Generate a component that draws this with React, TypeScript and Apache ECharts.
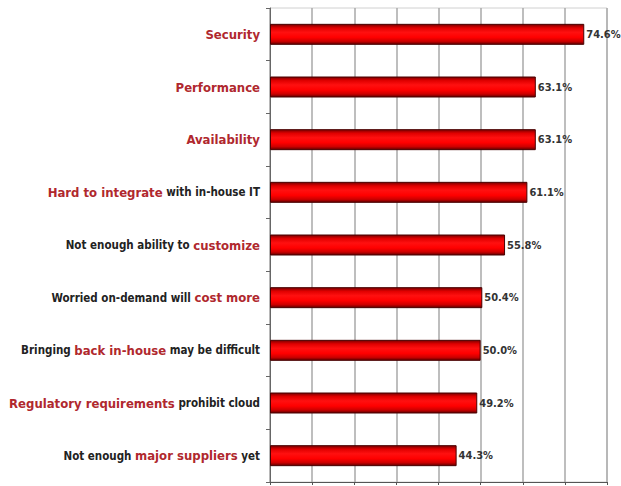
import React, { useEffect, useRef } from "react";
import * as echarts from "echarts";

const categories = [
  "Security",
  "Performance",
  "Availability",
  "Hard to integrate with in-house IT",
  "Not enough ability to customize",
  "Worried on-demand will cost more",
  "Bringing back in-house may be difficult",
  "Regulatory requirements prohibit cloud",
  "Not enough major suppliers yet",
];
const highlights = [
  "Security",
  "Performance",
  "Availability",
  "Hard to integrate",
  "customize",
  "cost more",
  "back in-house",
  "Regulatory requirements",
  "major suppliers",
];
const values = [74.6, 63.1, 63.1, 61.1, 55.8, 50.4, 50.0, 49.2, 44.3];
const axisMin = 0;
const axisMax = 80;
const axisStep = 10;

const FONT = "'Liberation Sans Narrow', 'Arial Narrow', 'DejaVu Sans Condensed', 'Liberation Sans', sans-serif";

function richLabel(text: string, hi: string): string {
  const i = text.indexOf(hi);
  if (i < 0) return `{k|${text}}`;
  const before = text.slice(0, i);
  const after = text.slice(i + hi.length);
  let s = "";
  if (before) s += `{k|${before}}`;
  s += `{r|${hi}}`;
  if (after) s += `{k|${after}}`;
  return s;
}

export default function App() {
  const ref = useRef<HTMLDivElement>(null);
  useEffect(() => {
    if (!ref.current) return;
    const chart = echarts.init(ref.current, undefined, { renderer: "svg" });
    chart.setOption({
      animation: false,
      backgroundColor: "#ffffff",
      grid: {
        left: 270,
        right: 14,
        top: 8,
        bottom: 4,
        show: true,
        borderColor: "#d0d0d0",
        borderWidth: 1,
        containLabel: false,
        outerBoundsMode: "none",
      },
      xAxis: {
        type: "value",
        min: axisMin,
        max: axisMax,
        interval: axisStep,
        axisLabel: { show: false },
        axisLine: { show: true, lineStyle: { color: "#555", width: 1 } },
        axisTick: { show: true, length: 3, lineStyle: { color: "#555" } },
        splitLine: { show: true, lineStyle: { color: "#a8a8a8", width: 1.5 } },
      },
      yAxis: {
        type: "category",
        inverse: true,
        data: categories,
        axisLine: { show: true, lineStyle: { color: "#666", width: 1 } },
        axisTick: { show: true, length: 4, lineStyle: { color: "#666" } },
        splitLine: { show: false },
        axisLabel: {
          margin: 10,
          align: "right",
          formatter: (v: string, idx: number) => richLabel(v, highlights[idx]),
          rich: {
            r: {
              fontFamily: FONT,
              fontWeight: "bold",
              fontSize: 13,
              color: "#b0282e",
            },
            k: {
              fontFamily: FONT,
              fontWeight: "bold",
              fontSize: 11.5,
              color: "#222222",
            },
          },
        },
      },
      series: [
        {
          type: "bar",
          data: values,
          barWidth: 21,
          itemStyle: {
            borderColor: "#4a0000",
            borderWidth: 1,
            color: new echarts.graphic.LinearGradient(0, 0, 0, 1, [
              { offset: 0, color: "#7a0000" },
              { offset: 0.18, color: "#e00000" },
              { offset: 0.4, color: "#ff1010" },
              { offset: 0.65, color: "#ff0000" },
              { offset: 0.85, color: "#cc0000" },
              { offset: 1, color: "#600000" },
            ]),
          },
          label: {
            show: true,
            position: "right",
            distance: 2,
            formatter: (p: any) => `${Number(p.value).toFixed(1)}%`,
            fontFamily: FONT,
            fontWeight: "bold",
            fontSize: 11,
            color: "#333333",
          },
        },
      ],
    });
    return () => chart.dispose();
  }, []);
  return (
    <div
      ref={ref}
      style={{ position: "fixed", left: 0, top: 0, width: 621, height: 486, background: "#fff" }}
    />
  );
}
